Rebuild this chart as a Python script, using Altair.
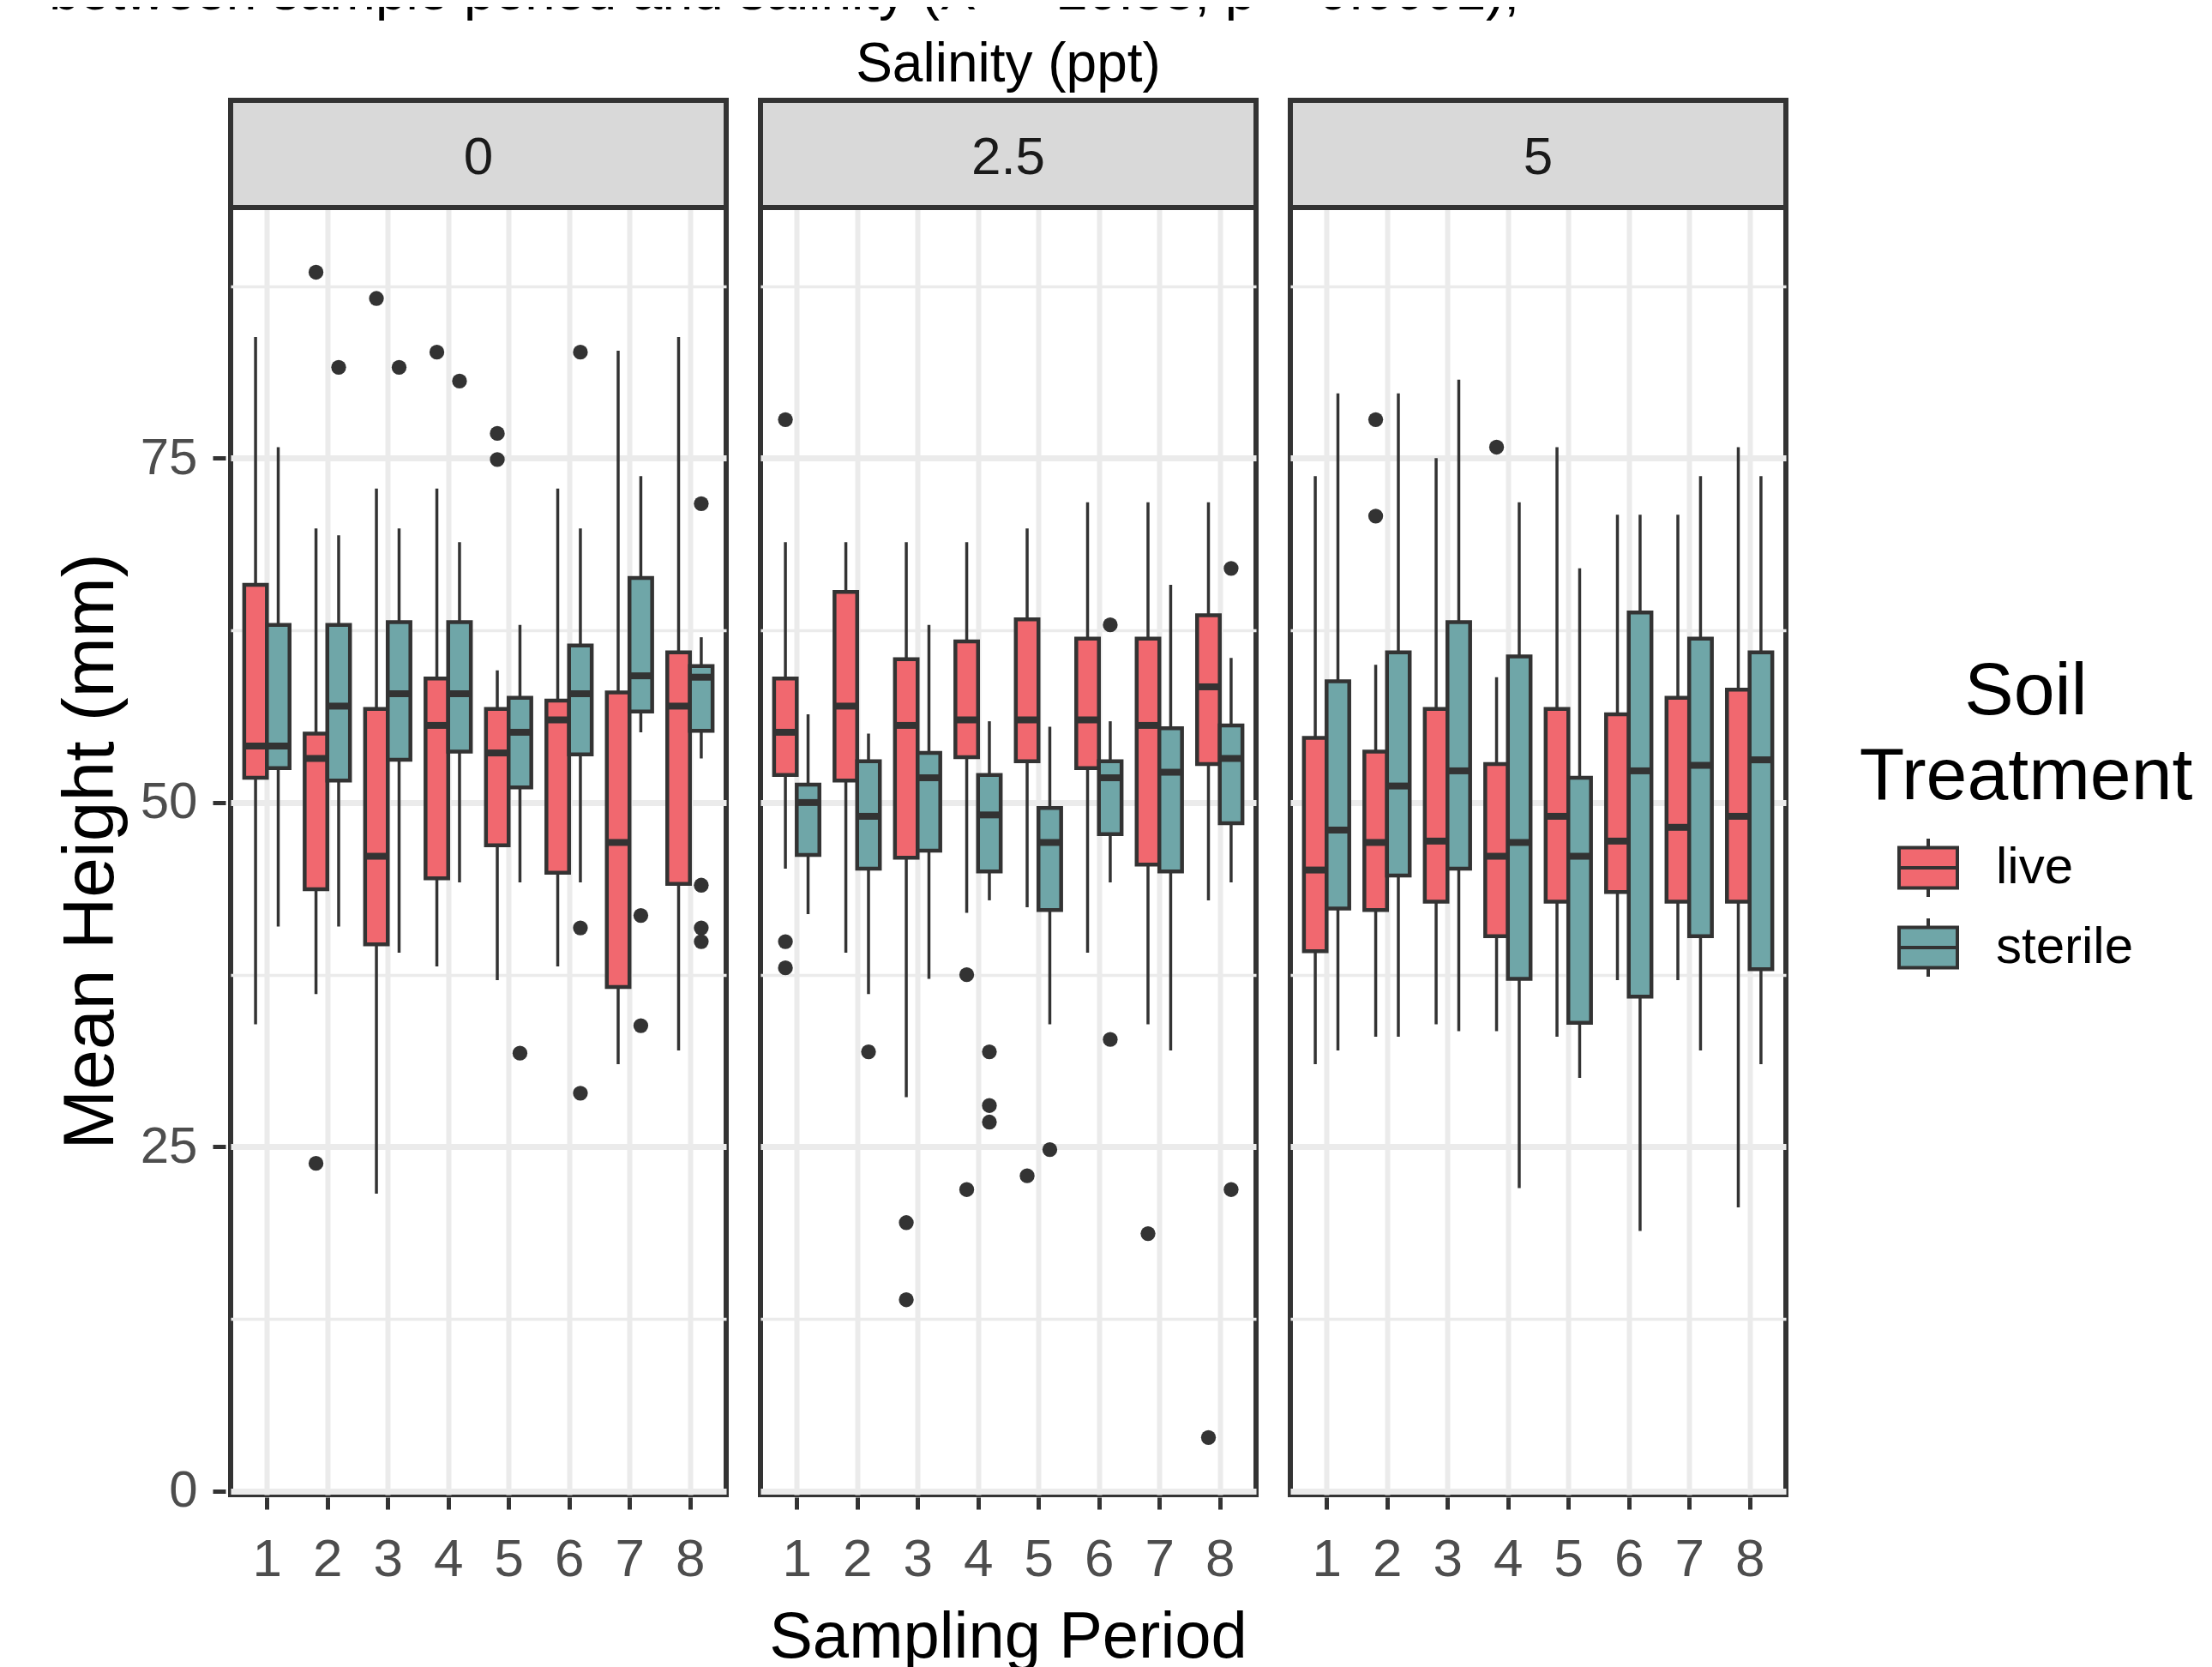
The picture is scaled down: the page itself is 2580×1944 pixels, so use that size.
import altair as alt
import pandas as pd

# ---------------- data ----------------
PERIODS = [1, 2, 3, 4, 5, 6, 7, 8]
SALINITY_LEVELS = ["0", "2.5", "5"]
TREATMENTS = ["live", "sterile"]

# (lower whisker, Q1, median, Q3, upper whisker) for sampling periods 1..8
LIVE_SAL_0 = [
    (33.9, 51.8, 54.1, 65.8, 83.8),
    (36.1, 43.7, 53.2, 55.0, 69.9),
    (21.6, 39.7, 46.1, 56.8, 72.8),
    (38.1, 44.5, 55.6, 59.0, 72.8),
    (37.1, 46.9, 53.6, 56.8, 59.6),
    (38.1, 44.9, 56.0, 57.4, 72.8),
    (31.0, 36.6, 47.1, 58.0, 82.8),
    (32.0, 44.1, 57.0, 60.9, 83.8),
]
STERILE_SAL_0 = [
    (41.0, 52.5, 54.1, 62.9, 75.8),
    (41.0, 51.6, 57.0, 62.9, 69.4),
    (39.1, 53.1, 57.9, 63.1, 69.9),
    (44.2, 53.7, 57.9, 63.1, 68.9),
    (44.2, 51.1, 55.1, 57.6, 62.9),
    (44.2, 53.5, 57.9, 61.4, 69.9),
    (55.1, 56.6, 59.2, 66.3, 73.7),
    (53.2, 55.2, 59.1, 59.9, 62.0),
]
LIVE_SAL_25 = [
    (45.2, 52.0, 55.1, 59.0, 68.9),
    (39.1, 51.6, 57.0, 65.3, 68.9),
    (28.6, 46.0, 55.6, 60.4, 68.9),
    (42.0, 53.3, 56.0, 61.7, 68.9),
    (42.4, 53.0, 56.0, 63.3, 69.9),
    (39.1, 52.5, 56.0, 61.9, 71.8),
    (33.9, 45.5, 55.6, 61.9, 71.8),
    (42.9, 52.8, 58.4, 63.6, 71.8),
]
STERILE_SAL_25 = [
    (41.9, 46.2, 50.0, 51.3, 56.4),
    (36.1, 45.2, 49.0, 53.0, 55.0),
    (37.2, 46.5, 51.8, 53.6, 62.9),
    (42.9, 45.0, 49.1, 52.0, 55.9),
    (33.9, 42.2, 47.1, 49.6, 55.5),
    (44.2, 47.7, 51.8, 53.0, 55.9),
    (32.0, 45.0, 52.2, 55.4, 65.8),
    (44.2, 48.5, 53.2, 55.6, 60.5),
]
LIVE_SAL_5 = [
    (31.0, 39.2, 45.1, 54.7, 73.7),
    (33.0, 42.2, 47.1, 53.7, 60.0),
    (33.9, 42.8, 47.2, 56.8, 75.0),
    (33.4, 40.3, 46.1, 52.8, 59.1),
    (33.0, 42.8, 49.0, 56.8, 75.8),
    (37.1, 43.5, 47.2, 56.4, 70.9),
    (37.1, 42.8, 48.2, 57.6, 70.9),
    (20.6, 42.8, 49.0, 58.2, 75.8),
]
STERILE_SAL_5 = [
    (32.0, 42.3, 48.0, 58.8, 79.7),
    (33.0, 44.7, 51.2, 60.9, 79.7),
    (33.4, 45.2, 52.3, 63.1, 80.7),
    (22.0, 37.2, 47.1, 60.6, 71.8),
    (30.0, 34.0, 46.1, 51.8, 67.0),
    (18.9, 35.9, 52.3, 63.8, 70.9),
    (32.0, 40.3, 52.7, 61.9, 73.7),
    (31.0, 37.9, 53.1, 60.9, 73.7),
]

# outliers: (period, treatment, value)
OUTLIERS_SAL_0 = [
    (2, "live", 88.5), (2, "live", 23.8), (2, "sterile", 81.6),
    (3, "live", 86.6), (3, "sterile", 81.6),
    (4, "live", 82.7), (4, "sterile", 80.6),
    (5, "live", 76.8), (5, "live", 74.9), (5, "sterile", 31.8),
    (6, "sterile", 82.7), (6, "sterile", 40.9), (6, "sterile", 28.9),
    (7, "sterile", 41.8), (7, "sterile", 33.8),
    (8, "sterile", 71.7), (8, "sterile", 44.0), (8, "sterile", 40.9), (8, "sterile", 39.9),
]
OUTLIERS_SAL_25 = [
    (1, "live", 77.8), (1, "live", 39.9), (1, "live", 38.0),
    (2, "sterile", 31.9),
    (3, "live", 19.5), (3, "live", 13.9),
    (4, "live", 37.5), (4, "live", 21.9),
    (4, "sterile", 31.9), (4, "sterile", 28.0), (4, "sterile", 26.8),
    (5, "live", 22.9), (5, "sterile", 24.8),
    (6, "sterile", 62.9), (6, "sterile", 32.8),
    (7, "live", 18.7),
    (8, "live", 3.9), (8, "sterile", 67.0), (8, "sterile", 21.9),
]
OUTLIERS_SAL_5 = [
    (2, "live", 77.8), (2, "live", 70.8),
    (4, "live", 75.8),
]

Y_TICKS = [0, 12.5, 25, 37.5, 50, 62.5, 75, 87.5]
TITLE = "between sample period and salinity (X\u00b2 = 20.88, p < 0.0001),"

# ---------------- styling / layout ----------------
FONT = "Liberation Sans"
LIVE_COLOR = "#F1686F"
STERILE_COLOR = "#6FA6A8"
DARK = "#333333"
GRID = "#EBEBEB"
CELL_W = 578
PLOT_H = 1501
STRIP_H = 125
Y_MIN, Y_MAX = -0.25, 93.2
Y_TOP = Y_MAX + STRIP_H * (Y_MAX - Y_MIN) / PLOT_H
HALF = 0.1875  # half of a dodged box width (ggplot: 0.75 / 2 / 2)
EN_SPACE = "\u2002"

# ---------------- table ----------------
rows = []
stats = {
    "0": (LIVE_SAL_0, STERILE_SAL_0),
    "2.5": (LIVE_SAL_25, STERILE_SAL_25),
    "5": (LIVE_SAL_5, STERILE_SAL_5),
}
for sal, (live, sterile) in stats.items():
    for trt, series in zip(TREATMENTS, (live, sterile)):
        for p, (lo, q1, med, q3, hi) in zip(PERIODS, series):
            rows.append(dict(kind="box", salinity=sal, period=p, treatment=trt,
                             lower=lo, q1=q1, median=med, q3=q3, upper=hi))
outs = {"0": OUTLIERS_SAL_0, "2.5": OUTLIERS_SAL_25, "5": OUTLIERS_SAL_5}
for sal, lst in outs.items():
    for p, trt, v in lst:
        rows.append(dict(kind="outlier", salinity=sal, period=p, treatment=trt, value=v))
for sal in SALINITY_LEVELS:
    rows.append(dict(kind="strip", salinity=sal))
df = pd.DataFrame(rows)
dodge = df["treatment"].map({"live": -HALF, "sterile": HALF})
df["xc"] = df["period"] + dodge
df["xl"] = df["xc"] - HALF
df["xr"] = df["xc"] + HALF

# ---------------- chart ----------------
xscale = alt.Scale(domain=[0.4, 8.6], nice=False, zero=False)
yscale = alt.Scale(domain=[Y_MIN, Y_TOP], nice=False, zero=False)
major = "datum.value % 25 === 0"

xaxis = alt.Axis(values=PERIODS, title=None, grid=True, gridColor=GRID, gridWidth=6,
                 tickColor=DARK, tickWidth=5, tickSize=14, labelFontSize=62,
                 labelColor="#4D4D4D", labelPadding=28, domain=False, format="d")
yaxis = alt.Axis(values=Y_TICKS, title="Mean Height (mm)", grid=True, gridColor=GRID,
                 gridWidth={"condition": {"test": major, "value": 7}, "value": 3.5},
                 tickOpacity={"condition": {"test": major, "value": 1}, "value": 0},
                 labelExpr=f"{major} ? datum.label : ''",
                 tickColor=DARK, tickWidth=5, tickSize=15, labelFontSize=60,
                 labelColor="#4D4D4D", labelPadding=18, titleFontSize=84,
                 titleFontWeight="normal", titleColor="black", titlePadding=14,
                 titleY=STRIP_H + PLOT_H / 2, domain=False)

SYMBOL = "M-1,-0.69H1V0.69H-1Z M-1,0H1 M0,-0.69V-1 M0,0.69V1"

base = alt.Chart()

strip_rect = base.mark_rect(fill="#D9D9D9", stroke=DARK, strokeWidth=6).encode(
    x=alt.value(0), x2=alt.value(CELL_W), y=alt.value(0), y2=alt.value(STRIP_H)
).transform_filter("datum.kind === 'strip'")

strip_text = base.mark_text(fontSize=62, color="#1A1A1A", baseline="middle").encode(
    text="salinity:N", x=alt.value(CELL_W / 2), y=alt.value(STRIP_H / 2 + 4)
).transform_filter("datum.kind === 'strip'")

whisker = base.mark_rule(color=DARK, strokeWidth=3.5).encode(
    x=alt.X("xc:Q", scale=xscale, axis=xaxis),
    y=alt.Y("lower:Q", scale=yscale, axis=yaxis),
    y2="upper:Q",
).transform_filter("datum.kind === 'box'")

box = base.mark_bar(stroke=DARK, strokeWidth=4.5).encode(
    x="xl:Q", x2="xr:Q", y="q1:Q", y2="q3:Q",
    fill=alt.Fill("treatment:N",
                  scale=alt.Scale(domain=TREATMENTS, range=[LIVE_COLOR, STERILE_COLOR]),
                  legend=alt.Legend(title=["Soil", "Treatment"], orient="none",
                                    legendX=1900, legendY=648,
                                    titleFontSize=86, titleFontWeight="normal",
                                    titleColor="black", titleLineHeight=99,
                                    titleAlign="center", titleAnchor="middle",
                                    titleLimit=2000, labelLimit=2000,
                                    titlePadding=26, symbolType=SYMBOL, symbolSize=4624,
                                    symbolStrokeColor=DARK, symbolStrokeWidth=4,
                                    symbolOffset=-25, labelFontSize=60, labelColor="black",
                                    labelOffset=43, rowPadding=9)),
).transform_filter("datum.kind === 'box'")

median = base.mark_rule(color=DARK, strokeWidth=8).encode(
    x="xl:Q", x2="xr:Q", y="median:Q"
).transform_filter("datum.kind === 'box'")

outliers = base.mark_circle(size=300, color=DARK, opacity=1).encode(
    x="xc:Q", y="value:Q"
).transform_filter("datum.kind === 'outlier'")

cell = alt.layer(strip_rect, whisker, box, median, outliers, strip_text, data=df).properties(
    width=CELL_W, height=STRIP_H + PLOT_H
)

chart = cell.facet(
    column=alt.Column(
        "salinity:N", sort=SALINITY_LEVELS,
        header=alt.Header(title=EN_SPACE * 2 + "Salinity (ppt)", titleOrient="top",
                          titleFontSize=64, titleFontWeight="normal", titleColor="black",
                          titlePadding=-7, labelOrient="bottom",
                          labelExpr="datum.value == '2.5' ? 'Sampling Period' : ''",
                          labelFontSize=76, labelColor="black", labelPadding=24),
    ),
    spacing=28,
).properties(
    title=alt.TitleParams(TITLE, anchor="start", fontSize=64, fontWeight="normal",
                          color="black", offset=20, dx=-7),
    padding={"top": -48, "left": 49, "right": 10, "bottom": 4},
).configure(font=FONT).configure_view(stroke=DARK, strokeWidth=6)

chart.save("out.html", embed_options={"renderer": "svg", "actions": False})
